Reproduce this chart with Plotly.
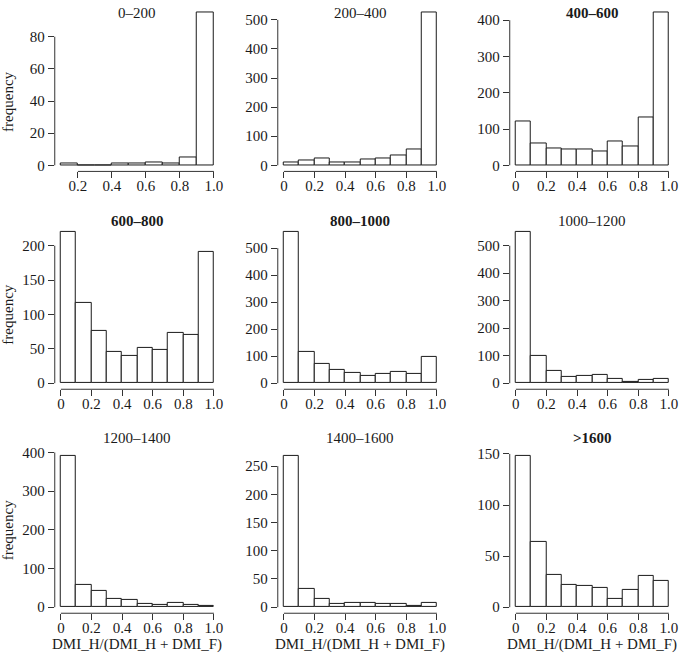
import plotly.graph_objects as go

# ---------------- data ----------------
titles = ["0\u2013200", "200\u2013400", "400\u2013600",
          "600\u2013800", "800\u20131000", "1000\u20131200",
          "1200\u20131400", "1400\u20131600", ">1600"]
bold_titles = [False, False, True, True, True, False, False, False, True]

bins_full = [0.0, 0.1, 0.2, 0.3, 0.4, 0.5, 0.6, 0.7, 0.8, 0.9]
bins_first = [0.1, 0.2, 0.3, 0.4, 0.5, 0.6, 0.7, 0.8, 0.9]
bin_width = 0.1

counts_0_200 = [1, 0, 0, 1, 1, 2, 1, 5, 95]
counts_200_400 = [10, 18, 22, 11, 8, 20, 25, 35, 55, 525]
counts_400_600 = [122, 60, 47, 44, 44, 37, 65, 53, 132, 421]
counts_600_800 = [220, 117, 76, 45, 40, 51, 49, 73, 70, 191]
counts_800_1000 = [560, 115, 72, 51, 38, 27, 33, 40, 35, 96]
counts_1000_1200 = [550, 101, 45, 22, 28, 30, 14, 6, 12, 17]
counts_1200_1400 = [391, 57, 43, 21, 18, 9, 6, 11, 5, 3]
counts_1400_1600 = [268, 32, 14, 5, 8, 7, 6, 5, 3, 7]
counts_gt_1600 = [148, 64, 32, 22, 21, 19, 8, 17, 31, 26]

all_counts = [counts_0_200, counts_200_400, counts_400_600,
              counts_600_800, counts_800_1000, counts_1000_1200,
              counts_1200_1400, counts_1400_1600, counts_gt_1600]
all_bins = [bins_first] + [bins_full] * 8

xticks_first = [0.2, 0.4, 0.6, 0.8, 1.0]
xticklabels_first = ["0.2", "0.4", "0.6", "0.8", "1.0"]
xticks_full = [0, 0.2, 0.4, 0.6, 0.8, 1.0]
xticklabels_full = ["0", "0.2", "0.4", "0.6", "0.8", "1.0"]

yticks = [
    [0, 20, 40, 60, 80],
    [0, 100, 200, 300, 400, 500],
    [0, 100, 200, 300, 400],
    [0, 50, 100, 150, 200],
    [0, 100, 200, 300, 400, 500],
    [0, 100, 200, 300, 400, 500],
    [0, 100, 200, 300, 400],
    [0, 50, 100, 150, 200, 250],
    [0, 50, 100, 150],
]

xlabel = "DMI_H/(DMI_H + DMI_F)"
ylabel = "frequency"

# ---------------- layout geometry (pixels) ----------------
W, H = 681, 657
col_px = [(55, 221), (279, 445), (512, 678)]
row_px = [(1.5, 168.2), (223.3, 388.4), (449.7, 614.8)]
title_y_px = [8, 218, 438]
ylab_y_px = [98, 313, 531]

FONT = "Liberation Serif, Times New Roman, serif"
FS = 15
TXT = "#1a1a1a"
AX = "#333333"

fig = go.Figure()
shapes = []
annotations = []

for i in range(9):
    r, c = divmod(i, 3)
    k = "" if i == 0 else str(i + 1)
    xa, ya = "x" + k, "y" + k
    bins = all_bins[i]
    counts = all_counts[i]
    centers = [b + bin_width / 2 for b in bins]
    fig.add_trace(go.Bar(
        x=centers, y=counts, width=[bin_width] * len(bins),
        marker=dict(color="white", line=dict(color="#1a1a1a", width=1)),
        xaxis=xa, yaxis=ya, showlegend=False, hoverinfo="x+y"))

    xlo, xhi = bins[0], bins[-1] + bin_width
    xr = xhi - xlo
    ymax = max(counts)
    xt = xticks_first if i == 0 else xticks_full
    xtl = xticklabels_first if i == 0 else xticklabels_full

    x0p, x1p = col_px[c]
    y0p, y1p = row_px[r]
    xdom = [x0p / W, x1p / W]
    ydom = [1 - y1p / H, 1 - y0p / H]

    common = dict(showgrid=False, zeroline=False, showline=False,
                  ticks="outside", ticklen=6, tickwidth=1, tickcolor=AX,
                  tickfont=dict(family=FONT, size=FS, color=TXT),
                  fixedrange=True)
    fig.update_layout(**{
        ("xaxis" + k): dict(domain=xdom, anchor=ya,
                            range=[xlo - 0.04 * xr, xhi + 0.04 * xr],
                            tickmode="array", tickvals=xt, ticktext=xtl,
                            ticklabelstandoff=-5,
                            **common),
        ("yaxis" + k): dict(domain=ydom, anchor=xa,
                            range=[-0.04 * ymax, 1.04 * ymax],
                            tickmode="array", tickvals=yticks[i],
                            ticktext=[str(v) for v in yticks[i]],
                            **common),
    })
    # R-style axis lines spanning only the tick range
    shapes.append(dict(type="line", xref=xa, yref=ya + " domain",
                       x0=xt[0], x1=xt[-1], y0=0, y1=0,
                       line=dict(color=AX, width=1)))
    shapes.append(dict(type="line", xref=xa + " domain", yref=ya,
                       x0=0, x1=0, y0=yticks[i][0], y1=yticks[i][-1],
                       line=dict(color=AX, width=1)))

    t = titles[i]
    if bold_titles[i]:
        t = "<b>" + t + "</b>"
    annotations.append(dict(text=t, xref="paper", yref="paper",
                            x=(x0p + x1p) / 2 / W, y=1 - title_y_px[r] / H,
                            xanchor="center", yanchor="middle", showarrow=False,
                            font=dict(family=FONT, size=FS, color=TXT)))
    if c == 0:
        annotations.append(dict(text=ylabel, xref="paper", yref="paper",
                                x=8 / W, y=1 - ylab_y_px[r] / H, textangle=-90,
                                xanchor="center", yanchor="middle", showarrow=False,
                                font=dict(family=FONT, size=FS, color=TXT)))
    if r == 2:
        annotations.append(dict(text=xlabel, xref="paper", yref="paper",
                                x=(x0p + x1p) / 2 / W, y=1 - 646 / H,
                                xanchor="center", yanchor="middle", showarrow=False,
                                font=dict(family=FONT, size=FS, color=TXT)))

fig.update_layout(width=W, height=H, margin=dict(l=0, r=0, t=0, b=0),
                  paper_bgcolor="white", plot_bgcolor="white",
                  bargap=0, shapes=shapes, annotations=annotations,
                  font=dict(family=FONT, size=FS, color=TXT))

fig.write_html("out.html",
               config={"displayModeBar": False},
               post_script="document.body.style.margin='0';document.body.style.padding='0';")
